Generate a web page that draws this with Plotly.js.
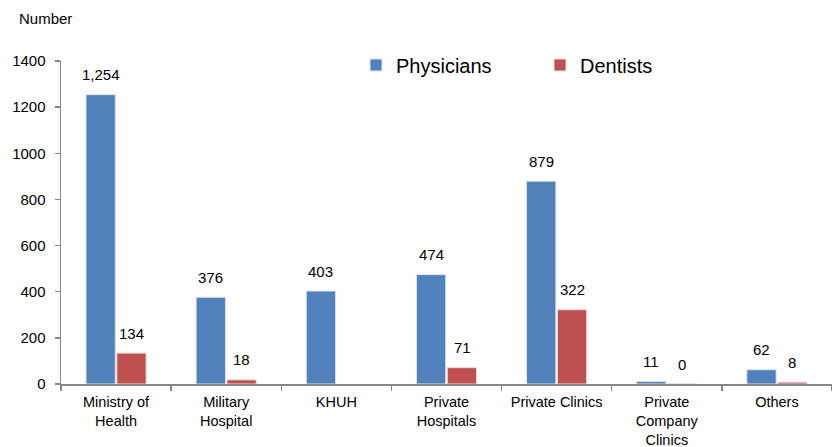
<!DOCTYPE html>
<html>
<head>
<meta charset="utf-8">
<script src="https://cdn.plot.ly/plotly-3.0.1.min.js"></script>
<style>html,body{margin:0;padding:0;background:#fff;}#chart{width:832px;height:447px;}</style>
</head>
<body>
<div id="chart"></div>
<script>
const categories = ["Ministry of<br>Health", "Military<br>Hospital", "KHUH", "Private<br>Hospitals", "Private Clinics", "Private<br>Company<br>Clinics", "Others"];
const physicians = [1254, 376, 403, 474, 879, 11, 62];
const dentists = [134, 18, null, 71, 322, 0, 8];
const seriesNames = ["Physicians", "Dentists"];
const yTicks = [0, 200, 400, 600, 800, 1000, 1200, 1400];

const fontFam = "Liberation Sans, Arial, sans-serif";
const blue = "#4F81BD", red = "#C0504D";

const traces = [
  {type: "bar", name: seriesNames[0], x: categories, y: physicians,
   marker: {color: blue, line: {color: "rgba(225,225,225,1)", width: 1}}, hoverinfo: "none"},
  {type: "bar", name: seriesNames[1], x: categories, y: dentists,
   marker: {color: red, line: {color: "rgba(225,225,225,1)", width: 1}}, hoverinfo: "none"}
];

const annotations = [];
const series = [physicians, dentists];
const shifts = [-15.5, 15.5];
series.forEach((vals, s) => {
  vals.forEach((v, i) => {
    if (v === null || v === undefined) return;
    annotations.push({
      xref: "x", yref: "y", x: i, y: v, text: v.toLocaleString("en-US"),
      showarrow: false, xanchor: "center", yanchor: "middle",
      xshift: shifts[s], yshift: 20,
      font: {family: fontFam, size: 15, color: "#000"}
    });
  });
});
annotations.push({
  xref: "paper", yref: "paper", x: (17 - 61) / 771, y: (384 - 18) / 323,
  xanchor: "left", yanchor: "middle", text: "Number", showarrow: false,
  font: {family: fontFam, size: 15, color: "#000"}
});

const layout = {
  width: 832, height: 447,
  margin: {l: 61, r: 0, t: 61, b: 63, pad: 0},
  paper_bgcolor: "#fff", plot_bgcolor: "#fff",
  font: {family: fontFam, size: 15, color: "#000"},
  barmode: "group", bargap: 0.44, bargroupgap: 0.05,
  showlegend: true,
  legend: {orientation: "h", x: (356 - 61) / 771, xanchor: "left", y: (384 - 65) / 323, yanchor: "middle",
           font: {family: fontFam, size: 20, color: "#000"}, entrywidth: 139, entrywidthmode: "pixels",
           bgcolor: "rgba(0,0,0,0)", borderwidth: 0},
  xaxis: {type: "category", showline: true, linecolor: "#868686", linewidth: 1.5,
          ticks: "outside", tickson: "boundaries", ticklen: 5, tickcolor: "#868686", tickwidth: 1.5,
          showgrid: false, zeroline: false, fixedrange: true, ticklabelstandoff: 4,
          tickfont: {family: fontFam, size: 14.5, color: "#000"}},
  yaxis: {range: [0, 1400], tickvals: yTicks, ticktext: yTicks.map(String), showline: true, linecolor: "#868686", linewidth: 1.5,
          ticks: "outside", ticklen: 5, tickcolor: "#868686", tickwidth: 1.5,
          showgrid: false, zeroline: false, fixedrange: true, ticklabelstandoff: 6,
          tickfont: {family: fontFam, size: 15, color: "#000"}},
  annotations: annotations
};

Plotly.newPlot("chart", traces, layout, {staticPlot: true, displayModeBar: false});
</script>
</body>
</html>
